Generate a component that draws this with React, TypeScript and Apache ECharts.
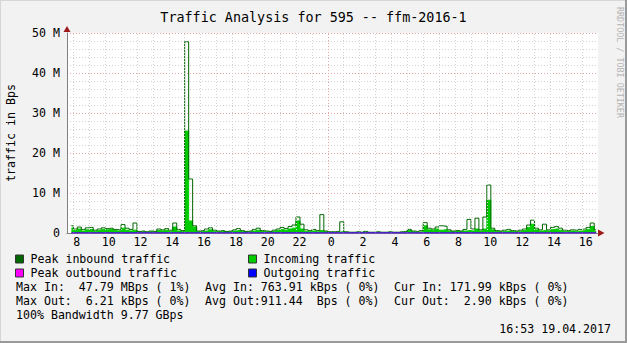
import { useEffect, useRef } from "react";
import * as echarts from "echarts";

const TITLE = "Traffic Analysis for 595 -- ffm-2016-1";
const FONT = "'DejaVu Sans Mono', 'Liberation Mono', monospace";

// time axis in hours since 00:00 of the first day
const X_MIN = 7.6;
const X_MAX = 40.99;
const START_HOUR = 7.875;
const STEP_HOURS = 0.25;
const HOUR_LABELS = [8, 10, 12, 14, 16, 18, 20, 22, 24, 26, 28, 30, 32, 34, 36, 38, 40];
const GRID_HOURS = [8, 9, 10, 11, 12, 13, 14, 15, 16, 17, 18, 19, 20, 21, 22, 23, 24, 25, 26, 27, 28, 29, 30, 31, 32, 33, 34, 35, 36, 37, 38, 39, 40];

// values in MBps
const PEAK_IN = [
  1.8, 1.0, 1.5, 0.9, 1.3, 1.4, 0.7, 1.0, 1.3, 1.1,
  1.2, 0.9, 0.8, 2.1, 1.2, 0.9, 2.5, 0.4, 0.5, 0.3,
  0.5, 0.4, 1.0, 0.8, 1.1, 0.7, 2.5, 0.9, 0.6, 47.8,
  13.5, 1.8, 0.5, 0.6, 1.0, 1.3, 0.7, 0.5, 0.6, 0.4,
  0.5, 0.8, 1.1, 0.6, 0.4, 0.5, 0.9, 1.2, 0.6, 0.5,
  0.4, 0.7, 1.0, 1.4, 1.1, 1.6, 2.0, 4.0, 2.2, 0.8,
  0.6, 0.9, 0.6, 4.6, 0.5, 0.3, 0.3, 0.4, 2.8, 0.3,
  0.2, 0.2, 0.3, 0.2, 0.4, 0.2, 0.2, 0.3, 0.2, 0.2,
  0.3, 0.2, 0.2, 0.3, 0.4, 0.9, 0.5, 0.4, 0.6, 2.6,
  1.2, 1.0, 1.5, 1.8, 1.7, 0.8, 0.5, 0.6, 0.5, 0.9,
  3.4, 1.0, 3.7, 0.8, 4.0, 12.0, 1.2, 0.6, 0.5, 0.7,
  0.9, 0.6, 0.5, 0.7, 1.0, 2.0, 3.2, 1.2, 0.8, 2.2,
  0.8, 1.4, 1.6, 1.2, 0.7, 0.6, 0.8, 0.7, 0.9, 1.0,
  1.4, 2.5, 0.8,
];
const INCOMING = [
  1.2, 0.6, 1.0, 0.5, 0.8, 0.9, 0.4, 0.6, 0.9, 0.8,
  0.9, 0.7, 0.5, 1.2, 0.7, 0.5, 0.7, 0.2, 0.3, 0.2,
  0.3, 0.3, 0.6, 0.5, 0.7, 0.4, 1.5, 0.5, 0.4, 25.5,
  3.0, 1.5, 0.3, 0.4, 0.5, 0.8, 0.4, 0.3, 0.4, 0.3,
  0.3, 0.5, 0.6, 0.4, 0.3, 0.3, 0.5, 0.7, 0.4, 0.3,
  0.3, 0.4, 0.6, 0.9, 0.7, 1.0, 1.2, 3.0, 1.0, 0.4,
  0.3, 0.5, 0.3, 0.6, 0.3, 0.2, 0.2, 0.2, 0.3, 0.2,
  0.1, 0.1, 0.2, 0.1, 0.2, 0.1, 0.1, 0.2, 0.1, 0.1,
  0.2, 0.1, 0.1, 0.2, 0.2, 0.6, 0.3, 0.2, 0.3, 1.8,
  0.8, 0.7, 1.0, 0.7, 0.8, 0.5, 0.3, 0.4, 0.3, 0.5,
  0.6, 0.5, 1.0, 0.5, 1.0, 8.2, 0.8, 0.4, 0.3, 0.4,
  0.5, 0.4, 0.3, 0.4, 0.6, 1.4, 2.2, 0.8, 0.5, 0.6,
  0.5, 0.9, 1.0, 0.7, 0.4, 0.4, 0.5, 0.4, 0.5, 0.6,
  0.9, 1.6, 0.4,
];
// values in kBps
const OUTGOING_K = [
  0.9, 0.8, 1.1, 0.7, 0.9, 1.2, 0.8, 0.6, 0.9, 1.0,
  0.8, 0.7, 0.9, 1.3, 0.8, 0.7, 1.0, 0.6, 0.5, 0.6,
  0.7, 0.6, 0.8, 0.9, 0.7, 0.8, 1.1, 0.9, 0.8, 2.4,
  1.6, 1.0, 0.7, 0.6, 0.8, 0.9, 0.7, 0.6, 0.6, 0.5,
  0.6, 0.7, 0.8, 0.6, 0.5, 0.6, 0.7, 0.8, 0.6, 0.6,
  0.5, 0.6, 0.7, 0.9, 0.8, 1.0, 1.1, 1.9, 1.2, 0.7,
  0.6, 0.7, 0.6, 1.3, 0.6, 0.5, 0.5, 0.5, 0.9, 0.5,
  0.5, 0.4, 0.5, 0.4, 0.5, 0.4, 0.4, 0.5, 0.4, 0.4,
  0.5, 0.4, 0.4, 0.5, 0.5, 0.8, 0.6, 0.5, 0.6, 1.4,
  1.0, 0.9, 1.1, 1.2, 1.1, 0.8, 0.6, 0.7, 0.6, 0.8,
  1.2, 0.8, 1.4, 0.7, 1.3, 3.1, 0.9, 0.7, 0.6, 0.7,
  0.8, 0.7, 0.6, 0.7, 0.9, 1.3, 1.8, 1.0, 0.8, 1.2,
  0.8, 1.1, 1.2, 1.0, 0.8, 0.7, 0.8, 0.7, 0.9, 1.0,
  1.3, 2.9, 2.9,
];
const PEAK_OUT_K = [
  1.6, 1.4, 1.9, 1.2, 1.5, 2.0, 1.3, 1.1, 1.6, 1.7,
  1.4, 1.2, 1.5, 2.2, 1.4, 1.2, 1.8, 1.0, 0.9, 1.0,
  1.2, 1.0, 1.4, 1.5, 1.2, 1.4, 1.9, 1.5, 1.3, 6.2,
  3.1, 1.8, 1.2, 1.0, 1.4, 1.5, 1.2, 1.0, 1.0, 0.9,
  1.0, 1.2, 1.4, 1.0, 0.9, 1.0, 1.2, 1.4, 1.0, 1.0,
  0.9, 1.0, 1.2, 1.5, 1.4, 1.7, 1.9, 3.4, 2.0, 1.2,
  1.0, 1.2, 1.0, 2.3, 1.0, 0.9, 0.9, 0.9, 1.6, 0.9,
  0.8, 0.7, 0.8, 0.7, 0.8, 0.7, 0.7, 0.8, 0.7, 0.7,
  0.8, 0.7, 0.7, 0.8, 0.8, 1.4, 1.0, 0.9, 1.0, 2.5,
  1.8, 1.6, 1.9, 2.1, 1.9, 1.4, 1.0, 1.2, 1.0, 1.4,
  2.1, 1.4, 2.5, 1.2, 2.3, 5.4, 1.6, 1.2, 1.0, 1.2,
  1.4, 1.2, 1.0, 1.2, 1.6, 2.3, 3.1, 1.8, 1.4, 2.1,
  1.4, 1.9, 2.1, 1.8, 1.4, 1.2, 1.4, 1.2, 1.6, 1.8,
  2.3, 4.8, 3.6,
];

const STATS_LINES = [
  ["Max In:  47.79 MBps ( 1%)", "Avg In: 763.91 kBps ( 0%)", "Cur In: 171.99 kBps ( 0%)"],
  ["Max Out:  6.21 kBps ( 0%)", "Avg Out:911.44  Bps ( 0%)", "Cur Out:  2.90 kBps ( 0%)"],
  ["100% Bandwidth 9.77 GBps", "", ""],
];
const TIMESTAMP = "16:53 19.04.2017";
const WATERMARK = "RRDTOOL / TOBI OETIKER";

const C_PEAK_IN = "#006600";
const C_IN = "#00cc00";
const C_PEAK_OUT = "#ff00ff";
const C_OUT = "#0000ff";
const C_MINOR = "#d2d2d2";
const C_MAJOR = "#e6a6a6";

export default function App() {
  const ref = useRef<HTMLDivElement>(null);
  useEffect(() => {
    if (!ref.current) return;
    const chart = echarts.init(ref.current, null, { renderer: "svg" });
    const times = PEAK_IN.map((_, i) => START_HOUR + i * STEP_HOURS);
    const pair = (arr: number[], scale = 1) => arr.map((v, i) => [times[i], v * scale]);

    const txt = (text: string, x: number, y: number, size = 11.6, align = "left", color = "#000") => ({
      type: "text",
      x,
      y,
      silent: true,
      style: {
        text,
        font: `${size}px ${FONT}`,
        fill: color,
        align,
        verticalAlign: "middle",
        textAlign: align,
        textVerticalAlign: "middle",
      },
    });

    const statsGraphics: any[] = [];
    const colX = [16, 205, 394];
    STATS_LINES.forEach((row, r) => {
      row.forEach((s, c) => {
        if (s) statsGraphics.push(txt(s, colX[c], 287 + r * 14));
      });
    });

    const option: any = {
      animation: false,
      backgroundColor: "#f2f2f2",
      title: {
        text: TITLE,
        left: "center",
        top: 6,
        textStyle: { fontFamily: FONT, fontSize: 13.4, fontWeight: "normal", color: "#000" },
      },
      grid: {
        left: 67,
        right: 29,
        top: 33,
        bottom: 110,
        containLabel: false,
        outerBoundsMode: "none",
        show: true,
        backgroundColor: "#ffffff",
        borderWidth: 0,
      },
      legend: [
        {
          data: ["Peak inbound traffic", "Peak outbound traffic"],
          orient: "vertical",
          left: 15,
          top: 252,
          padding: 0,
          itemGap: 0,
          itemWidth: 8,
          itemHeight: 8,
          icon: "rect",
          selectedMode: false,
          itemStyle: { borderColor: "#333", borderWidth: 1 },
          textStyle: { fontFamily: FONT, fontSize: 11.6, color: "#000", lineHeight: 14, padding: [0, 0, 0, 2] },
        },
        {
          data: ["Incoming traffic", "Outgoing traffic"],
          orient: "vertical",
          left: 248,
          top: 252,
          padding: 0,
          itemGap: 0,
          itemWidth: 8,
          itemHeight: 8,
          icon: "rect",
          selectedMode: false,
          itemStyle: { borderColor: "#333", borderWidth: 1 },
          textStyle: { fontFamily: FONT, fontSize: 11.6, color: "#000", lineHeight: 14, padding: [0, 0, 0, 2] },
        },
      ],
      xAxis: {
        type: "value",
        min: X_MIN,
        max: X_MAX,
        axisLine: { show: true, onZero: false, lineStyle: { color: "#808080", width: 1 } },
        axisTick: { show: false },
        splitLine: { show: false },
        axisLabel: {
          customValues: HOUR_LABELS,
          formatter: (v: number) => String(Math.round(v) % 24),
          fontFamily: FONT,
          fontSize: 11.6,
          color: "#000",
          margin: 3,
          padding: [0, 0, 0, 7],
        },
      },
      yAxis: {
        type: "value",
        min: 0,
        max: 50,
        interval: 10,
        name: "traffic in Bps",
        nameLocation: "middle",
        nameGap: 50,
        nameRotate: 90,
        nameTextStyle: { fontFamily: FONT, fontSize: 11.6, color: "#000" },
        axisLine: { show: true, lineStyle: { color: "#808080", width: 1 } },
        axisTick: { show: false },
        axisLabel: {
          formatter: (v: number) => (v === 0 ? "0" : `${v} M`),
          fontFamily: FONT,
          fontSize: 11.6,
          color: "#000",
          margin: 7,
        },
        splitLine: { show: true, lineStyle: { color: C_MAJOR, type: [1, 2], width: 1 } },
        minorTick: { show: false, splitNumber: 5 },
        minorSplitLine: { show: true, lineStyle: { color: C_MINOR, type: [1, 2], width: 1 } },
      },
      series: [
        {
          name: "grid",
          type: "line",
          data: [],
          z: 1,
          silent: true,
          markLine: {
            silent: true,
            symbol: ["none", "none"],
            label: { show: false },
            animation: false,
            data: GRID_HOURS.map((h) => ({
              xAxis: h,
              lineStyle: { color: h % 24 === 0 ? C_MAJOR : C_MINOR, type: [1, 2], width: 1 },
            })),
          },
        },
        {
          name: "Incoming traffic",
          type: "line",
          step: "middle",
          data: pair(INCOMING),
          symbol: "none",
          color: C_IN,
          itemStyle: { color: C_IN },
          lineStyle: { color: C_IN, width: 1 },
          areaStyle: { color: C_IN, opacity: 1 },
          z: 3,
        },
        {
          name: "Peak inbound traffic",
          type: "line",
          step: "middle",
          data: pair(PEAK_IN),
          symbol: "none",
          color: C_PEAK_IN,
          itemStyle: { color: C_PEAK_IN },
          lineStyle: { color: C_PEAK_IN, width: 1 },
          z: 4,
        },
        {
          name: "Peak outbound traffic",
          type: "line",
          step: "middle",
          data: pair(PEAK_OUT_K, 0.001),
          symbol: "none",
          color: C_PEAK_OUT,
          itemStyle: { color: C_PEAK_OUT },
          lineStyle: { color: C_PEAK_OUT, width: 1 },
          z: 5,
        },
        {
          name: "Outgoing traffic",
          type: "line",
          step: "middle",
          data: pair(OUTGOING_K, 0.001),
          symbol: "none",
          color: C_OUT,
          itemStyle: { color: C_OUT },
          lineStyle: { color: C_OUT, width: 1 },
          z: 6,
        },
      ],
      graphic: [
        { type: "line", silent: true, shape: { x1: 0, y1: 0.5, x2: 627, y2: 0.5 }, style: { stroke: "#d6d6d6", lineWidth: 1 } },
        { type: "line", silent: true, shape: { x1: 0.5, y1: 0, x2: 0.5, y2: 343 }, style: { stroke: "#d6d6d6", lineWidth: 1 } },
        { type: "line", silent: true, shape: { x1: 0, y1: 342, x2: 627, y2: 342 }, style: { stroke: "#9a9a9a", lineWidth: 2 } },
        { type: "line", silent: true, shape: { x1: 626, y1: 0, x2: 626, y2: 343 }, style: { stroke: "#9a9a9a", lineWidth: 2 } },
        { type: "polygon", silent: true, shape: { points: [[63.5, 32], [70.5, 32], [67, 26]] }, style: { fill: "#9e1a1a" } },
        { type: "polygon", silent: true, shape: { points: [[598, 229.5], [598, 236.5], [604.5, 233]] }, style: { fill: "#9e1a1a" } },
        ...statsGraphics,
        txt(TIMESTAMP, 611, 329, 11.6, "right"),
        {
          type: "text",
          x: 620,
          y: 7,
          rotation: -Math.PI / 2,
          silent: true,
          style: {
            text: WATERMARK,
            font: `8.4px ${FONT}`,
            fill: "#b4b4b4",
            align: "left",
            verticalAlign: "middle",
            textAlign: "left",
            textVerticalAlign: "middle",
          },
        },
      ],
    };
    chart.setOption(option);
    return () => chart.dispose();
  }, []);
  return <div ref={ref} style={{ position: "absolute", left: 0, top: 0, width: 627, height: 343 }} />;
}
